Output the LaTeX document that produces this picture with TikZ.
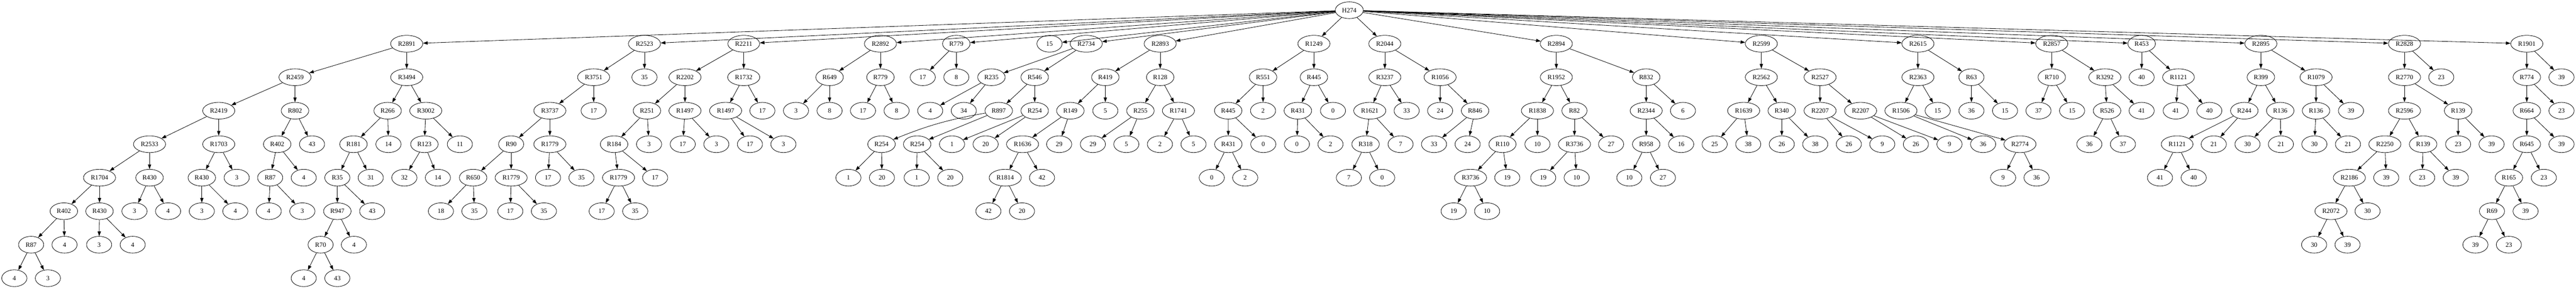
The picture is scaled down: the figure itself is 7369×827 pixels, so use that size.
\documentclass[tikz,border=0pt]{standalone}
\usepackage{fontspec}
\setmainfont{Liberation Serif}
\usetikzlibrary{shapes.geometric,arrows.meta}
\tikzset{
  gv/.style={draw, ellipse, line width=0.9pt, minimum width=54pt, minimum height=36pt,
    inner xsep=5.7pt, inner ysep=2pt, font=\fontsize{14}{16}\selectfont},
  gvedge/.style={line width=0.9pt, -{Triangle[length=10pt,width=7pt]}}
}
\begin{document}
\begin{tikzpicture}[x=0.75pt,y=0.75pt]
\useasboundingbox (0,0) rectangle (7369,-827);
% row 0
\node[gv] (root) at (3859.8,-29.33) {H274};
% row 1
\node[gv] (a1) at (1163.4,-125.33) {R2891};
\node[gv] (a2) at (1843.6,-125.33) {R2523};
\node[gv] (a3) at (2127.5,-125.33) {R2211};
\node[gv] (a4) at (2518.6,-125.33) {R2892};
\node[gv] (a5) at (2735.7,-125.33) {R779};
\node[gv] (a6) at (3002.2,-125.33) {15};
\node[gv] (a7) at (3107.3,-125.33) {R2734};
\node[gv] (a8) at (3318.9,-125.33) {R2893};
\node[gv] (a9) at (3758.6,-125.33) {R1249};
\node[gv] (a10) at (3961.4,-125.33) {R2044};
\node[gv] (a11) at (4452.1,-125.33) {R2894};
\node[gv] (a12) at (5038.5,-125.33) {R2599};
\node[gv] (a13) at (5486.5,-125.33) {R2615};
\node[gv] (a14) at (5869.3,-125.33) {R2857};
\node[gv] (a15) at (6126.4,-125.33) {R453};
\node[gv] (a16) at (6467.5,-125.33) {R2895};
\node[gv] (a17) at (6878.3,-125.33) {R2828};
\node[gv] (a18) at (7228.2,-125.33) {R1901};
% subtree R2891
\node[gv] (b1) at (843.9,-221.33) {R2459};
\node[gv] (b2) at (1163.4,-221.33) {R3494};
\node[gv] (b3) at (625.7,-317.33) {R2419};
\node[gv] (b4) at (843.9,-317.33) {R802};
\node[gv] (b5) at (427.8,-413.33) {R2533};
\node[gv] (b6) at (625.7,-413.33) {R1703};
\node[gv] (b7) at (284.7,-509.33) {R1704};
\node[gv] (b8) at (427.8,-509.33) {R430};
\node[gv] (b9) at (182.7,-605.33) {R402};
\node[gv] (b10) at (284.7,-605.33) {R430};
\node[gv] (b11) at (89,-701.33) {R87};
\node[gv] (b12) at (184.6,-701.33) {4};
\node[gv] (b13) at (41,-797.33) {4};
\node[gv] (b14) at (137,-797.33) {3};
\node[gv] (b15) at (283.5,-701.33) {3};
\node[gv] (b16) at (379.6,-701.33) {4};
\node[gv] (b17) at (384.7,-605.33) {3};
\node[gv] (b18) at (480.8,-605.33) {4};
\node[gv] (b19) at (577.3,-509.33) {R430};
\node[gv] (b20) at (677.1,-509.33) {3};
\node[gv] (b21) at (577.3,-605.33) {3};
\node[gv] (b22) at (673.2,-605.33) {4};
\node[gv] (b23) at (793,-413.33) {R402};
\node[gv] (b24) at (892.6,-413.33) {43};
\node[gv] (b25) at (772.8,-509.33) {R87};
\node[gv] (b26) at (868.9,-509.33) {4};
\node[gv] (b27) at (768.8,-605.33) {4};
\node[gv] (b28) at (864.9,-605.33) {3};
\node[gv] (b29) at (1108.9,-317.33) {R266};
\node[gv] (b30) at (1218,-317.33) {R3002};
\node[gv] (b31) at (1011.2,-413.33) {R181};
\node[gv] (b32) at (1111.2,-413.33) {14};
\node[gv] (b33) at (965,-509.33) {R35};
\node[gv] (b34) at (1060.6,-509.33) {31};
\node[gv] (b35) at (965,-605.33) {R947};
\node[gv] (b36) at (1064.6,-605.33) {43};
\node[gv] (b37) at (917.1,-701.33) {R70};
\node[gv] (b38) at (1012.4,-701.33) {4};
\node[gv] (b39) at (868.9,-797.33) {4};
\node[gv] (b40) at (965,-797.33) {43};
\node[gv] (b41) at (1214,-413.33) {R123};
\node[gv] (b42) at (1315.5,-413.33) {11};
\node[gv] (b43) at (1156.7,-509.33) {32};
\node[gv] (b44) at (1252.6,-509.33) {14};
% subtree R2523
\node[gv] (c1) at (1698.2,-221.33) {R3751};
\node[gv] (c2) at (1843.6,-221.33) {35};
\node[gv] (c3) at (1572.9,-317.33) {R3737};
\node[gv] (c4) at (1698.2,-317.33) {17};
\node[gv] (c5) at (1462.2,-413.33) {R90};
\node[gv] (c6) at (1572.9,-413.33) {R1779};
\node[gv] (c7) at (1353.4,-509.33) {R650};
\node[gv] (c8) at (1462.2,-509.33) {R1779};
\node[gv] (c9) at (1261.3,-605.33) {18};
\node[gv] (c10) at (1357,-605.33) {35};
\node[gv] (c11) at (1459.8,-605.33) {17};
\node[gv] (c12) at (1555.9,-605.33) {35};
\node[gv] (c13) at (1567.7,-509.33) {17};
\node[gv] (c14) at (1663.4,-509.33) {35};
% subtree R2211
\node[gv] (d1) at (1959.5,-221.33) {R2202};
\node[gv] (d2) at (2127.5,-221.33) {R1732};
\node[gv] (d3) at (1850.7,-317.33) {R251};
\node[gv] (d4) at (1959.5,-317.33) {R1497};
\node[gv] (d5) at (1756.7,-413.33) {R184};
\node[gv] (d6) at (1856.7,-413.33) {3};
\node[gv] (d7) at (1769.4,-509.33) {R1779};
\node[gv] (d8) at (1874.1,-509.33) {17};
\node[gv] (d9) at (1721.2,-605.33) {17};
\node[gv] (d10) at (1817.1,-605.33) {35};
\node[gv] (d11) at (1953.1,-413.33) {17};
\node[gv] (d12) at (2049.2,-413.33) {3};
\node[gv] (d13) at (2075.7,-317.33) {R1497};
\node[gv] (d14) at (2180.9,-317.33) {17};
\node[gv] (d15) at (2145.3,-413.33) {17};
\node[gv] (d16) at (2241,-413.33) {3};
% subtree R2892
\node[gv] (e1) at (2373.1,-221.33) {R649};
\node[gv] (e2) at (2518.6,-221.33) {R779};
\node[gv] (e3) at (2277,-317.33) {3};
\node[gv] (e4) at (2373.1,-317.33) {8};
\node[gv] (e5) at (2468.7,-317.33) {17};
\node[gv] (e6) at (2564.8,-317.33) {8};
% subtree R779
\node[gv] (f1) at (2639.6,-221.33) {17};
\node[gv] (f2) at (2735.7,-221.33) {8};
% subtree R2734
\node[gv] (g1) at (2836.1,-221.33) {R235};
\node[gv] (g2) at (2959.9,-221.33) {R546};
\node[gv] (g3) at (2660.9,-317.33) {4};
\node[gv] (g4) at (2757,-317.33) {34};
\node[gv] (g5) at (2857,-317.33) {R897};
\node[gv] (g6) at (2959.9,-317.33) {R254};
\node[gv] (g7) at (2521.7,-413.33) {R254};
\node[gv] (g8) at (2623.7,-413.33) {R254};
\node[gv] (g9) at (2427,-509.33) {1};
\node[gv] (g10) at (2522.9,-509.33) {20};
\node[gv] (g11) at (2622.2,-509.33) {1};
\node[gv] (g12) at (2718.3,-509.33) {20};
\node[gv] (g13) at (2723.4,-413.33) {1};
\node[gv] (g14) at (2819.5,-413.33) {20};
% subtree R2893
\node[gv] (h1) at (3161.9,-221.33) {R419};
\node[gv] (h2) at (3318.9,-221.33) {R128};
\node[gv] (h3) at (3061.9,-317.33) {R149};
\node[gv] (h4) at (3161.9,-317.33) {5};
\node[gv] (h5) at (2925.1,-413.33) {R1636};
\node[gv] (h6) at (3029.8,-413.33) {29};
\node[gv] (h7) at (2875.6,-509.33) {R1814};
\node[gv] (h8) at (2980.8,-509.33) {42};
\node[gv] (h9) at (2827.4,-605.33) {42};
\node[gv] (h10) at (2923.5,-605.33) {20};
\node[gv] (h11) at (3262.3,-317.33) {R255};
\node[gv] (h12) at (3371,-317.33) {R1741};
\node[gv] (h13) at (3126.3,-413.33) {29};
\node[gv] (h14) at (3222,-413.33) {5};
\node[gv] (h15) at (3318.1,-413.33) {2};
\node[gv] (h16) at (3414.2,-413.33) {5};
% subtree R1249
\node[gv] (i1) at (3613.1,-221.33) {R551};
\node[gv] (i2) at (3758.6,-221.33) {R445};
\node[gv] (i3) at (3513.4,-317.33) {R445};
\node[gv] (i4) at (3613.1,-317.33) {2};
\node[gv] (i5) at (3513.8,-413.33) {R431};
\node[gv] (i6) at (3613.8,-413.33) {0};
\node[gv] (i7) at (3466.4,-509.33) {0};
\node[gv] (i8) at (3562,-509.33) {2};
\node[gv] (i9) at (3712.7,-317.33) {R431};
\node[gv] (i10) at (3813.1,-317.33) {0};
\node[gv] (i11) at (3709.9,-413.33) {0};
\node[gv] (i12) at (3806,-413.33) {2};
% subtree R2044
\node[gv] (j1) at (3961.4,-221.33) {R3237};
\node[gv] (j2) at (4119.6,-221.33) {R1056};
\node[gv] (j3) at (3918.3,-317.33) {R1621};
\node[gv] (j4) at (4023.9,-317.33) {33};
\node[gv] (j5) at (3906.4,-413.33) {R318};
\node[gv] (j6) at (4006.5,-413.33) {7};
\node[gv] (j7) at (3858.6,-509.33) {7};
\node[gv] (j8) at (3953.9,-509.33) {0};
\node[gv] (j9) at (4119.6,-317.33) {24};
\node[gv] (j10) at (4219.6,-317.33) {R846};
\node[gv] (j11) at (4102.2,-413.33) {33};
\node[gv] (j12) at (4198.3,-413.33) {24};
% subtree R2894
\node[gv] (k1) at (4452.1,-221.33) {R1952};
\node[gv] (k2) at (4709.1,-221.33) {R832};
\node[gv] (k3) at (4398,-317.33) {R1838};
\node[gv] (k4) at (4503.9,-317.33) {R82};
\node[gv] (k5) at (4298,-413.33) {R110};
\node[gv] (k6) at (4398,-413.33) {10};
\node[gv] (k7) at (4206.6,-509.33) {R3736};
\node[gv] (k8) at (4311.7,-509.33) {19};
\node[gv] (k9) at (4158.3,-605.33) {19};
\node[gv] (k10) at (4254,-605.33) {10};
\node[gv] (k11) at (4503.9,-413.33) {R3736};
\node[gv] (k12) at (4608.7,-413.33) {27};
\node[gv] (k13) at (4414.6,-509.33) {19};
\node[gv] (k14) at (4510.2,-509.33) {10};
\node[gv] (k15) at (4709.1,-317.33) {R2344};
\node[gv] (k16) at (4814.3,-317.33) {6};
\node[gv] (k17) at (4709.1,-413.33) {R958};
\node[gv] (k18) at (4809.1,-413.33) {16};
\node[gv] (k19) at (4660.9,-509.33) {10};
\node[gv] (k20) at (4757,-509.33) {27};
% subtree R2599
\node[gv] (l1) at (5038.5,-221.33) {R2562};
\node[gv] (l2) at (5206.5,-221.33) {R2527};
\node[gv] (l3) at (4987.9,-317.33) {R1639};
\node[gv] (l4) at (5097,-317.33) {R340};
\node[gv] (l5) at (4905,-413.33) {25};
\node[gv] (l6) at (5001,-413.33) {38};
\node[gv] (l7) at (5097,-413.33) {26};
\node[gv] (l8) at (5192.7,-413.33) {38};
\node[gv] (l9) at (5206.5,-317.33) {R2207};
\node[gv] (l10) at (5322.4,-317.33) {R2207};
\node[gv] (l11) at (5288.8,-413.33) {26};
\node[gv] (l12) at (5384.5,-413.33) {9};
\node[gv] (l13) at (5480.6,-413.33) {26};
\node[gv] (l14) at (5576.7,-413.33) {9};
% subtree R2615
\node[gv] (m1) at (5486.5,-221.33) {R2363};
\node[gv] (m2) at (5639.5,-221.33) {R63};
\node[gv] (m3) at (5437.9,-317.33) {R1506};
\node[gv] (m4) at (5543,-317.33) {15};
\node[gv] (m5) at (5672.9,-413.33) {36};
\node[gv] (m6) at (5778.3,-413.33) {R2774};
\node[gv] (m7) at (5730.1,-509.33) {9};
\node[gv] (m8) at (5825.8,-509.33) {36};
\node[gv] (m9) at (5639.5,-317.33) {36};
\node[gv] (m10) at (5735.6,-317.33) {15};
% subtree R2857
\node[gv] (n1) at (5869.3,-221.33) {R710};
\node[gv] (n2) at (6021.1,-221.33) {R3292};
\node[gv] (n3) at (5831.3,-317.33) {37};
\node[gv] (n4) at (5927.4,-317.33) {15};
\node[gv] (n5) at (6027.4,-317.33) {R526};
\node[gv] (n6) at (6126.4,-317.33) {41};
\node[gv] (n7) at (5976.8,-413.33) {36};
\node[gv] (n8) at (6072.9,-413.33) {37};
% subtree R453
\node[gv] (o1) at (6126.4,-221.33) {40};
\node[gv] (o2) at (6231.8,-221.33) {R1121};
\node[gv] (o3) at (6223.9,-317.33) {41};
\node[gv] (o4) at (6320,-317.33) {40};
% subtree R2895
\node[gv] (p1) at (6467.5,-221.33) {R399};
\node[gv] (p2) at (6625.3,-221.33) {R1079};
\node[gv] (p3) at (6420.1,-317.33) {R244};
\node[gv] (p4) at (6522.9,-317.33) {R136};
\node[gv] (p5) at (6227.9,-413.33) {R1121};
\node[gv] (p6) at (6332.7,-413.33) {21};
\node[gv] (p7) at (6178.9,-509.33) {41};
\node[gv] (p8) at (6275.3,-509.33) {40};
\node[gv] (p9) at (6429.2,-413.33) {30};
\node[gv] (p10) at (6524.8,-413.33) {21};
\node[gv] (p11) at (6625.3,-317.33) {R136};
\node[gv] (p12) at (6725.3,-317.33) {39};
\node[gv] (p13) at (6620.5,-413.33) {30};
\node[gv] (p14) at (6716.6,-413.33) {21};
% subtree R2828
\node[gv] (q1) at (6878.3,-221.33) {R2770};
\node[gv] (q2) at (6983.5,-221.33) {23};
\node[gv] (q3) at (6878.3,-317.33) {R2596};
\node[gv] (q4) at (7031.7,-317.33) {R139};
\node[gv] (q5) at (6822.1,-413.33) {R2250};
\node[gv] (q6) at (6931.7,-413.33) {R139};
\node[gv] (q7) at (6720.6,-509.33) {R2186};
\node[gv] (q8) at (6826.1,-509.33) {39};
\node[gv] (q9) at (6668,-605.33) {R2072};
\node[gv] (q10) at (6772.7,-605.33) {30};
\node[gv] (q11) at (6619.8,-701.33) {30};
\node[gv] (q12) at (6715.4,-701.33) {39};
\node[gv] (q13) at (6928.9,-509.33) {23};
\node[gv] (q14) at (7025,-509.33) {39};
\node[gv] (q15) at (7031.7,-413.33) {23};
\node[gv] (q16) at (7127.4,-413.33) {39};
% subtree R1901
\node[gv] (s1) at (7228.2,-221.33) {R774};
\node[gv] (s2) at (7327.5,-221.33) {39};
\node[gv] (s3) at (7228.2,-317.33) {R664};
\node[gv] (s4) at (7327.5,-317.33) {23};
\node[gv] (s5) at (7228.2,-413.33) {R645};
\node[gv] (s6) at (7327.5,-413.33) {39};
\node[gv] (s7) at (7176.9,-509.33) {R165};
\node[gv] (s8) at (7276.9,-509.33) {23};
\node[gv] (s9) at (7128.6,-605.33) {R69};
\node[gv] (s10) at (7224.7,-605.33) {39};
\node[gv] (s11) at (7081.2,-701.33) {39};
\node[gv] (s12) at (7176.9,-701.33) {23};
% edges
\foreach \p/\c in {root/a1,root/a2,root/a3,root/a4,root/a5,root/a6,root/a7,root/a8,root/a9,
  root/a10,root/a11,root/a12,root/a13,root/a14,root/a15,root/a16,root/a17,root/a18,
  a1/b1,a1/b2,b1/b3,b1/b4,b3/b5,b3/b6,b5/b7,b5/b8,b7/b9,b7/b10,b9/b11,b9/b12,b11/b13,b11/b14,
  b10/b15,b10/b16,b8/b17,b8/b18,b6/b19,b6/b20,b19/b21,b19/b22,b4/b23,b4/b24,b23/b25,b23/b26,
  b25/b27,b25/b28,b2/b29,b2/b30,b29/b31,b29/b32,b31/b33,b31/b34,b33/b35,b33/b36,b35/b37,b35/b38,
  b37/b39,b37/b40,b30/b41,b30/b42,b41/b43,b41/b44,
  a2/c1,a2/c2,c1/c3,c1/c4,c3/c5,c3/c6,c5/c7,c5/c8,c7/c9,c7/c10,c8/c11,c8/c12,c6/c13,c6/c14,
  a3/d1,a3/d2,d1/d3,d1/d4,d3/d5,d3/d6,d5/d7,d5/d8,d7/d9,d7/d10,d4/d11,d4/d12,d2/d13,d2/d14,d13/d15,d13/d16,
  a4/e1,a4/e2,e1/e3,e1/e4,e2/e5,e2/e6,
  a5/f1,a5/f2,
  a7/g1,a7/g2,g1/g3,g1/g4,g2/g5,g2/g6,g5/g8,g7/g9,g7/g10,g8/g11,g8/g12,g6/g13,g6/g14,
  a8/h1,a8/h2,h1/h3,h1/h4,h3/h5,h3/h6,h5/h7,h5/h8,h7/h9,h7/h10,h2/h11,h2/h12,h11/h13,h11/h14,h12/h15,h12/h16,
  a9/i1,a9/i2,i1/i3,i1/i4,i3/i5,i3/i6,i5/i7,i5/i8,i2/i9,i2/i10,i9/i11,i9/i12,
  a10/j1,a10/j2,j1/j3,j1/j4,j3/j5,j3/j6,j5/j7,j5/j8,j2/j9,j2/j10,j10/j11,j10/j12,
  a11/k1,a11/k2,k1/k3,k1/k4,k3/k5,k3/k6,k5/k7,k5/k8,k7/k9,k7/k10,k4/k11,k4/k12,k11/k13,k11/k14,
  k2/k15,k2/k16,k15/k17,k15/k18,k17/k19,k17/k20,
  a12/l1,a12/l2,l1/l3,l1/l4,l3/l5,l3/l6,l4/l7,l4/l8,l2/l9,l2/l10,l9/l11,l9/l12,l10/l13,l10/l14,
  a13/m1,a13/m2,m1/m3,m1/m4,m3/m5,m3/m6,m6/m7,m6/m8,m2/m9,m2/m10,
  a14/n1,a14/n2,n1/n3,n1/n4,n2/n5,n2/n6,n5/n7,n5/n8,
  a15/o1,a15/o2,o2/o3,o2/o4,
  a16/p1,a16/p2,p1/p3,p1/p4,p3/p5,p3/p6,p5/p7,p5/p8,p4/p9,p4/p10,p2/p11,p2/p12,p11/p13,p11/p14,
  a17/q1,a17/q2,q1/q3,q1/q4,q3/q5,q3/q6,q5/q7,q5/q8,q7/q9,q7/q10,q9/q11,q9/q12,q6/q13,q6/q14,q4/q15,q4/q16,
  a18/s1,a18/s2,s1/s3,s1/s4,s3/s5,s3/s6,s5/s7,s5/s8,s7/s9,s7/s10,s9/s11,s9/s12}
  {\draw[gvedge] (\p) -- (\c);}
\draw[gvedge] (g5) to[bend right=6] (g7);
\end{tikzpicture}
\end{document}
